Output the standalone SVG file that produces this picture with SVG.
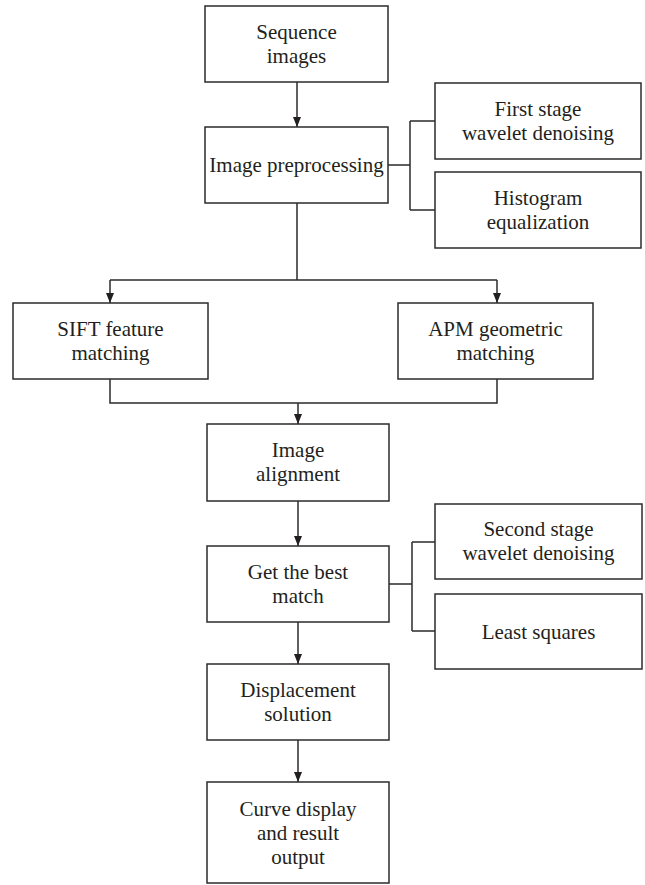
<svg xmlns="http://www.w3.org/2000/svg" width="645" height="885" viewBox="0 0 645 885">
<defs>
<style>
.box{fill:#fff;stroke:#2b2b2b;stroke-width:1.5}
.ln{fill:none;stroke:#2b2b2b;stroke-width:1.5}
.t{font-family:"Liberation Serif","Times New Roman",serif;font-size:21px;fill:#231f20;text-anchor:middle}
</style>
<marker id="ah" markerUnits="userSpaceOnUse" markerWidth="10" markerHeight="10" refX="10" refY="4" orient="auto">
<path d="M0,0 L10,4 L0,8 z" fill="#231f20"/>
</marker>
</defs>
<rect width="645" height="885" fill="#fff"/>
<g id="connectors">
<path class="ln" d="M297,82 V127" marker-end="url(#ah)"/>
<path class="ln" d="M388,165 H410 M410,121 V210 M410,121 H435 M410,210 H435"/>
<path class="ln" d="M297,203 V280 M110,280 H497"/>
<path class="ln" d="M110,280 V303" marker-end="url(#ah)"/>
<path class="ln" d="M497,280 V303" marker-end="url(#ah)"/>
<path class="ln" d="M110,379 V403 H497 V379"/>
<path class="ln" d="M298,403 V424" marker-end="url(#ah)"/>
<path class="ln" d="M298,501 V546" marker-end="url(#ah)"/>
<path class="ln" d="M389,584 H412 M412,542 V631 M412,542 H435 M412,631 H435"/>
<path class="ln" d="M298,622 V664" marker-end="url(#ah)"/>
<path class="ln" d="M298,740 V782" marker-end="url(#ah)"/>
</g>
<g id="seq"><rect class="box" x="205" y="6" width="183" height="76"/><text class="t" x="296.5" y="38.5">Sequence</text><text class="t" x="296.5" y="62.5">images</text></g>
<g id="prep"><rect class="box" x="205" y="127" width="183" height="76"/><text class="t" x="296.5" y="172">Image preprocessing</text></g>
<g id="first"><rect class="box" x="435" y="83" width="206" height="76"/><text class="t" x="538" y="115.5">First stage</text><text class="t" x="538" y="139.5">wavelet denoising</text></g>
<g id="hist"><rect class="box" x="435" y="172" width="206" height="76"/><text class="t" x="538" y="204.5">Histogram</text><text class="t" x="538" y="228.5">equalization</text></g>
<g id="sift"><rect class="box" x="13" y="303" width="195" height="76"/><text class="t" x="110.5" y="335.5">SIFT feature</text><text class="t" x="110.5" y="359.5">matching</text></g>
<g id="apm"><rect class="box" x="398" y="303" width="195" height="76"/><text class="t" x="495.5" y="335.5">APM geometric</text><text class="t" x="495.5" y="359.5">matching</text></g>
<g id="align"><rect class="box" x="207" y="424" width="182" height="77"/><text class="t" x="298" y="457">Image</text><text class="t" x="298" y="481">alignment</text></g>
<g id="best"><rect class="box" x="207" y="546" width="182" height="76"/><text class="t" x="298" y="578.5">Get the best</text><text class="t" x="298" y="602.5">match</text></g>
<g id="second"><rect class="box" x="435" y="504" width="207" height="75"/><text class="t" x="538.5" y="536">Second stage</text><text class="t" x="538.5" y="560">wavelet denoising</text></g>
<g id="least"><rect class="box" x="435" y="594" width="207" height="75"/><text class="t" x="538.5" y="638.5">Least squares</text></g>
<g id="disp"><rect class="box" x="207" y="664" width="182" height="76"/><text class="t" x="298" y="696.5">Displacement</text><text class="t" x="298" y="720.5">solution</text></g>
<g id="curve"><rect class="box" x="207" y="782" width="182" height="101"/><text class="t" x="298" y="815.5">Curve display</text><text class="t" x="298" y="839.5">and result</text><text class="t" x="298" y="863.5">output</text></g>
</svg>
